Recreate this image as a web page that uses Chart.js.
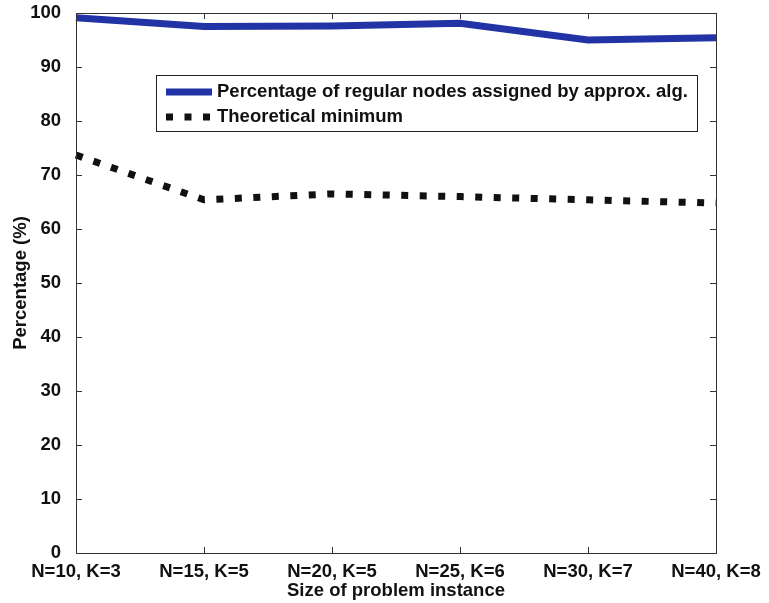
<!DOCTYPE html>
<html>
<head>
<meta charset="utf-8">
<script src="https://cdn.jsdelivr.net/npm/chart.js@4"></script>
<style>
    body { margin: 0; background: #fff; }
    #wrap { width: 769px; height: 603px; }
</style>
</head>
<body>
<div id="wrap"><canvas id="chart" width="769" height="603"></canvas></div>
<script>
// Chart data
const sizes = ['N=10, K=3', 'N=15, K=5', 'N=20, K=5', 'N=25, K=6', 'N=30, K=7', 'N=40, K=8'];
const approxAssigned = [99.1, 97.5, 97.6, 98.1, 95.0, 95.4];
const theoreticalMin = [73.7, 65.4, 66.5, 66.0, 65.4, 64.8];
const yTicks = [0, 10, 20, 30, 40, 50, 60, 70, 80, 90, 100];

const FONT = '"Liberation Sans", Arial, sans-serif';

// MATLAB style box with inward ticks
const framePlugin = {
    id: 'frame',
    afterDatasetsDraw(chart) {
        const { ctx, chartArea: a, scales } = chart;
        ctx.save();
        ctx.strokeStyle = '#333';
        ctx.lineWidth = 1;
        ctx.strokeRect(a.left + 0.5, a.top + 0.5, a.right - a.left, a.bottom - a.top);
        ctx.beginPath();
        scales.y.ticks.forEach((t, i) => {
            const y = Math.round(scales.y.getPixelForTick(i)) + 0.5;
            ctx.moveTo(a.left, y); ctx.lineTo(a.left + 6, y);
            ctx.moveTo(a.right, y); ctx.lineTo(a.right - 6, y);
        });
        scales.x.ticks.forEach((t, i) => {
            const x = Math.round(scales.x.getPixelForTick(i)) + 0.5;
            ctx.moveTo(x, a.bottom); ctx.lineTo(x, a.bottom - 6);
            ctx.moveTo(x, a.top); ctx.lineTo(x, a.top + 6);
        });
        ctx.stroke();
        ctx.restore();
    }
};

// legend box drawn inside the plot
const boxLegend = {
    id: 'boxLegend',
    afterDraw(chart) {
        const ctx = chart.ctx;
        const box = { x: 156, y: 75, w: 541, h: 56 };
        ctx.save();
        ctx.fillStyle = '#fff';
        ctx.fillRect(box.x, box.y, box.w, box.h);
        ctx.strokeStyle = '#222';
        ctx.lineWidth = 1;
        ctx.strokeRect(box.x + 0.5, box.y + 0.5, box.w, box.h);
        chart.data.datasets.forEach((ds, i) => {
            const y = box.y + 17 + i * 25;
            ctx.beginPath();
            ctx.strokeStyle = ds.borderColor;
            ctx.lineWidth = ds.borderWidth;
            ctx.setLineDash(ds.borderDash || []);
            ctx.moveTo(166, y);
            ctx.lineTo(212, y);
            ctx.stroke();
            ctx.setLineDash([]);
            ctx.fillStyle = '#111';
            ctx.font = 'bold 18.5px ' + FONT;
            ctx.textBaseline = 'middle';
            ctx.fillText(ds.label, 217, y);
        });
        ctx.restore();
    }
};

new Chart(document.getElementById('chart'), {
    type: 'line',
    data: {
        labels: sizes,
        datasets: [
            {
                label: 'Percentage of regular nodes assigned by approx. alg.',
                data: approxAssigned,
                borderColor: '#2233a6',
                borderWidth: 7,
                tension: 0,
                pointRadius: 0
            },
            {
                label: 'Theoretical minimum',
                data: theoreticalMin,
                borderColor: '#111',
                borderWidth: 7,
                borderDash: [7, 11.5],
                borderCapStyle: 'butt',
                tension: 0,
                pointRadius: 0
            }
        ]
    },
    options: {
        responsive: false,
        animation: false,
        layout: { padding: { top: 0, right: 53, bottom: 0, left: 0 } },
        plugins: {
            legend: { display: false },
            tooltip: { enabled: false }
        },
        scales: {
            x: {
                offset: false,
                grid: { display: false },
                border: { display: false },
                ticks: {
                    color: '#111',
                    padding: 0,
                    maxRotation: 0,
                    autoSkip: false,
                    font: { family: FONT, size: 18.5, weight: 'bold' }
                },
                title: {
                    display: true,
                    text: 'Size of problem instance',
                    color: '#111',
                    padding: { top: 0, bottom: 1 },
                    font: { family: FONT, size: 18.5, weight: 'bold' }
                },
                afterFit(scale) { scale.height = 50; }
            },
            y: {
                min: 0,
                max: 100,
                grid: { display: false },
                border: { display: false },
                afterBuildTicks(scale) { scale.ticks = yTicks.map(v => ({ value: v })); },
                ticks: {
                    color: '#111',
                    padding: 7,
                    font: { family: FONT, size: 18.5, weight: 'bold' }
                },
                title: {
                    display: true,
                    text: 'Percentage (%)',
                    color: '#111',
                    padding: { top: 10, bottom: 0 },
                    font: { family: FONT, size: 18.5, weight: 'bold' }
                },
                afterFit(scale) {
                    scale.width = 76;
                    scale.paddingTop = 13;
                    scale.paddingBottom = 0;
                }
            }
        }
    },
    plugins: [framePlugin, boxLegend]
});
</script>
</body>
</html>
